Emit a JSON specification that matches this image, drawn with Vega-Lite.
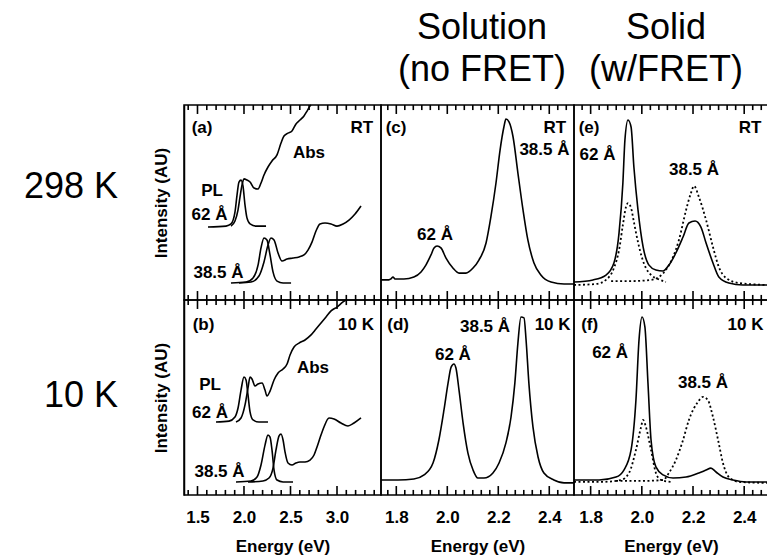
{
"$schema": "https://vega.github.io/schema/vega-lite/v6.json",
"padding": {"left": 23, "top": 0, "right": 0, "bottom": 0},
"background": "white",
"columns": 3,
"spacing": 0,
"bounds": "flush",
"align": "each",
"datasets": {
"spectra": [
{"panel":"a","series":"PL 62 Å","energy":1.613,"intensity":37.4},{"panel":"a","series":"PL 62 Å","energy":1.807,"intensity":37.9},{"panel":"a","series":"PL 62 Å","energy":1.86,"intensity":39.0},{"panel":"a","series":"PL 62 Å","energy":1.903,"intensity":45.1},{"panel":"a","series":"PL 62 Å","energy":1.925,"intensity":53.8},{"panel":"a","series":"PL 62 Å","energy":1.946,"intensity":60.5},{"panel":"a","series":"PL 62 Å","energy":1.968,"intensity":61.5},{"panel":"a","series":"PL 62 Å","energy":1.989,"intensity":58.5},{"panel":"a","series":"PL 62 Å","energy":2.011,"intensity":48.7},{"panel":"a","series":"PL 62 Å","energy":2.032,"intensity":42.1},{"panel":"a","series":"PL 62 Å","energy":2.065,"intensity":39.0},{"panel":"a","series":"PL 62 Å","energy":2.129,"intensity":37.9},{"panel":"a","series":"PL 62 Å","energy":2.237,"intensity":37.9},
{"panel":"a","series":"Abs 62 Å","energy":1.86,"intensity":37.9},{"panel":"a","series":"Abs 62 Å","energy":1.903,"intensity":40.5},{"panel":"a","series":"Abs 62 Å","energy":1.936,"intensity":46.2},{"panel":"a","series":"Abs 62 Å","energy":1.957,"intensity":52.8},{"panel":"a","series":"Abs 62 Å","energy":1.979,"intensity":59.0},{"panel":"a","series":"Abs 62 Å","energy":2.0,"intensity":62.1},{"panel":"a","series":"Abs 62 Å","energy":2.032,"intensity":61.5},{"panel":"a","series":"Abs 62 Å","energy":2.065,"intensity":60.5},{"panel":"a","series":"Abs 62 Å","energy":2.108,"intensity":57.4},{"panel":"a","series":"Abs 62 Å","energy":2.151,"intensity":56.9},{"panel":"a","series":"Abs 62 Å","energy":2.183,"intensity":60.0},{"panel":"a","series":"Abs 62 Å","energy":2.215,"intensity":64.1},{"panel":"a","series":"Abs 62 Å","energy":2.258,"intensity":68.2},{"panel":"a","series":"Abs 62 Å","energy":2.301,"intensity":71.3},{"panel":"a","series":"Abs 62 Å","energy":2.355,"intensity":74.4},{"panel":"a","series":"Abs 62 Å","energy":2.398,"intensity":80.5},{"panel":"a","series":"Abs 62 Å","energy":2.43,"intensity":84.1},{"panel":"a","series":"Abs 62 Å","energy":2.473,"intensity":85.6},{"panel":"a","series":"Abs 62 Å","energy":2.516,"intensity":86.7},{"panel":"a","series":"Abs 62 Å","energy":2.559,"intensity":90.3},{"panel":"a","series":"Abs 62 Å","energy":2.602,"intensity":92.3},{"panel":"a","series":"Abs 62 Å","energy":2.645,"intensity":94.4},{"panel":"a","series":"Abs 62 Å","energy":2.678,"intensity":96.9},{"panel":"a","series":"Abs 62 Å","energy":2.71,"intensity":99.5},{"panel":"a","series":"Abs 62 Å","energy":2.721,"intensity":100},
{"panel":"a","series":"PL 38.5 Å","energy":1.86,"intensity":8.7},{"panel":"a","series":"PL 38.5 Å","energy":2.022,"intensity":9.2},{"panel":"a","series":"PL 38.5 Å","energy":2.097,"intensity":11.3},{"panel":"a","series":"PL 38.5 Å","energy":2.151,"intensity":17.9},{"panel":"a","series":"PL 38.5 Å","energy":2.183,"intensity":26.7},{"panel":"a","series":"PL 38.5 Å","energy":2.215,"intensity":31.8},{"panel":"a","series":"PL 38.5 Å","energy":2.247,"intensity":30.8},{"panel":"a","series":"PL 38.5 Å","energy":2.28,"intensity":23.1},{"panel":"a","series":"PL 38.5 Å","energy":2.312,"intensity":14.4},{"panel":"a","series":"PL 38.5 Å","energy":2.355,"intensity":9.7},{"panel":"a","series":"PL 38.5 Å","energy":2.42,"intensity":8.7},{"panel":"a","series":"PL 38.5 Å","energy":2.506,"intensity":8.7},
{"panel":"a","series":"Abs 38.5 Å","energy":1.946,"intensity":8.7},{"panel":"a","series":"Abs 38.5 Å","energy":2.075,"intensity":9.2},{"panel":"a","series":"Abs 38.5 Å","energy":2.161,"intensity":12.3},{"panel":"a","series":"Abs 38.5 Å","energy":2.215,"intensity":19.5},{"panel":"a","series":"Abs 38.5 Å","energy":2.258,"intensity":28.2},{"panel":"a","series":"Abs 38.5 Å","energy":2.29,"intensity":31.8},{"panel":"a","series":"Abs 38.5 Å","energy":2.323,"intensity":30.8},{"panel":"a","series":"Abs 38.5 Å","energy":2.366,"intensity":24.1},{"panel":"a","series":"Abs 38.5 Å","energy":2.409,"intensity":20.0},{"panel":"a","series":"Abs 38.5 Å","energy":2.463,"intensity":21.0},{"panel":"a","series":"Abs 38.5 Å","energy":2.527,"intensity":21.5},{"panel":"a","series":"Abs 38.5 Å","energy":2.592,"intensity":22.1},{"panel":"a","series":"Abs 38.5 Å","energy":2.645,"intensity":23.1},{"panel":"a","series":"Abs 38.5 Å","energy":2.688,"intensity":25.6},{"panel":"a","series":"Abs 38.5 Å","energy":2.731,"intensity":29.7},{"panel":"a","series":"Abs 38.5 Å","energy":2.774,"intensity":35.4},{"panel":"a","series":"Abs 38.5 Å","energy":2.817,"intensity":39.0},{"panel":"a","series":"Abs 38.5 Å","energy":2.871,"intensity":39.5},{"panel":"a","series":"Abs 38.5 Å","energy":2.936,"intensity":39.0},{"panel":"a","series":"Abs 38.5 Å","energy":3.0,"intensity":37.9},{"panel":"a","series":"Abs 38.5 Å","energy":3.065,"intensity":39.0},{"panel":"a","series":"Abs 38.5 Å","energy":3.129,"intensity":41.0},{"panel":"a","series":"Abs 38.5 Å","energy":3.194,"intensity":44.1},{"panel":"a","series":"Abs 38.5 Å","energy":3.258,"intensity":48.2},
{"panel":"b","series":"PL 62 Å","energy":1.699,"intensity":37.4},{"panel":"b","series":"PL 62 Å","energy":1.839,"intensity":37.9},{"panel":"b","series":"PL 62 Å","energy":1.903,"intensity":40.0},{"panel":"b","series":"PL 62 Å","energy":1.936,"intensity":44.6},{"panel":"b","series":"PL 62 Å","energy":1.968,"intensity":53.8},{"panel":"b","series":"PL 62 Å","energy":2.0,"intensity":60.5},{"panel":"b","series":"PL 62 Å","energy":2.022,"intensity":59.0},{"panel":"b","series":"PL 62 Å","energy":2.043,"intensity":51.3},{"panel":"b","series":"PL 62 Å","energy":2.065,"intensity":42.6},{"panel":"b","series":"PL 62 Å","energy":2.097,"intensity":38.5},{"panel":"b","series":"PL 62 Å","energy":2.161,"intensity":37.4},{"panel":"b","series":"PL 62 Å","energy":2.258,"intensity":37.4},
{"panel":"b","series":"Abs 62 Å","energy":1.914,"intensity":37.4},{"panel":"b","series":"Abs 62 Å","energy":1.968,"intensity":39.5},{"panel":"b","series":"Abs 62 Å","energy":2.011,"intensity":46.2},{"panel":"b","series":"Abs 62 Å","energy":2.043,"intensity":54.9},{"panel":"b","series":"Abs 62 Å","energy":2.065,"intensity":60.5},{"panel":"b","series":"Abs 62 Å","energy":2.086,"intensity":59.5},{"panel":"b","series":"Abs 62 Å","energy":2.118,"intensity":55.9},{"panel":"b","series":"Abs 62 Å","energy":2.151,"intensity":56.9},{"panel":"b","series":"Abs 62 Å","energy":2.194,"intensity":57.4},{"panel":"b","series":"Abs 62 Å","energy":2.226,"intensity":53.8},{"panel":"b","series":"Abs 62 Å","energy":2.247,"intensity":50.8},{"panel":"b","series":"Abs 62 Å","energy":2.28,"intensity":53.3},{"panel":"b","series":"Abs 62 Å","energy":2.323,"intensity":59.0},{"panel":"b","series":"Abs 62 Å","energy":2.366,"intensity":62.6},{"panel":"b","series":"Abs 62 Å","energy":2.42,"intensity":64.6},{"panel":"b","series":"Abs 62 Å","energy":2.463,"intensity":67.2},{"panel":"b","series":"Abs 62 Å","energy":2.495,"intensity":71.8},{"panel":"b","series":"Abs 62 Å","energy":2.538,"intensity":75.9},{"panel":"b","series":"Abs 62 Å","energy":2.592,"intensity":77.9},{"panel":"b","series":"Abs 62 Å","energy":2.656,"intensity":79.5},{"panel":"b","series":"Abs 62 Å","energy":2.721,"intensity":82.1},{"panel":"b","series":"Abs 62 Å","energy":2.774,"intensity":85.1},{"panel":"b","series":"Abs 62 Å","energy":2.828,"intensity":88.2},{"panel":"b","series":"Abs 62 Å","energy":2.882,"intensity":91.3},{"panel":"b","series":"Abs 62 Å","energy":2.936,"intensity":94.4},{"panel":"b","series":"Abs 62 Å","energy":3.0,"intensity":96.4},{"panel":"b","series":"Abs 62 Å","energy":3.065,"intensity":99.0},{"panel":"b","series":"Abs 62 Å","energy":3.097,"intensity":100},
{"panel":"b","series":"PL 38.5 Å","energy":1.914,"intensity":6.7},{"panel":"b","series":"PL 38.5 Å","energy":2.075,"intensity":7.2},{"panel":"b","series":"PL 38.5 Å","energy":2.14,"intensity":9.2},{"panel":"b","series":"PL 38.5 Å","energy":2.183,"intensity":15.4},{"panel":"b","series":"PL 38.5 Å","energy":2.226,"intensity":25.6},{"panel":"b","series":"PL 38.5 Å","energy":2.258,"intensity":30.8},{"panel":"b","series":"PL 38.5 Å","energy":2.28,"intensity":29.7},{"panel":"b","series":"PL 38.5 Å","energy":2.301,"intensity":23.1},{"panel":"b","series":"PL 38.5 Å","energy":2.323,"intensity":12.8},{"panel":"b","series":"PL 38.5 Å","energy":2.355,"intensity":7.7},{"panel":"b","series":"PL 38.5 Å","energy":2.42,"intensity":6.7},{"panel":"b","series":"PL 38.5 Å","energy":2.527,"intensity":6.7},
{"panel":"b","series":"Abs 38.5 Å","energy":2.043,"intensity":6.7},{"panel":"b","series":"Abs 38.5 Å","energy":2.204,"intensity":7.2},{"panel":"b","series":"Abs 38.5 Å","energy":2.269,"intensity":8.7},{"panel":"b","series":"Abs 38.5 Å","energy":2.312,"intensity":13.8},{"panel":"b","series":"Abs 38.5 Å","energy":2.344,"intensity":23.1},{"panel":"b","series":"Abs 38.5 Å","energy":2.377,"intensity":30.3},{"panel":"b","series":"Abs 38.5 Å","energy":2.398,"intensity":31.3},{"panel":"b","series":"Abs 38.5 Å","energy":2.42,"intensity":28.2},{"panel":"b","series":"Abs 38.5 Å","energy":2.441,"intensity":22.1},{"panel":"b","series":"Abs 38.5 Å","energy":2.473,"intensity":16.4},{"panel":"b","series":"Abs 38.5 Å","energy":2.516,"intensity":15.4},{"panel":"b","series":"Abs 38.5 Å","energy":2.559,"intensity":16.4},{"panel":"b","series":"Abs 38.5 Å","energy":2.602,"intensity":16.9},{"panel":"b","series":"Abs 38.5 Å","energy":2.656,"intensity":16.9},{"panel":"b","series":"Abs 38.5 Å","energy":2.71,"intensity":17.9},{"panel":"b","series":"Abs 38.5 Å","energy":2.753,"intensity":20.5},{"panel":"b","series":"Abs 38.5 Å","energy":2.785,"intensity":24.6},{"panel":"b","series":"Abs 38.5 Å","energy":2.817,"intensity":29.2},{"panel":"b","series":"Abs 38.5 Å","energy":2.86,"intensity":34.9},{"panel":"b","series":"Abs 38.5 Å","energy":2.914,"intensity":39.5},{"panel":"b","series":"Abs 38.5 Å","energy":2.968,"intensity":39.0},{"panel":"b","series":"Abs 38.5 Å","energy":3.043,"intensity":36.9},{"panel":"b","series":"Abs 38.5 Å","energy":3.118,"intensity":35.4},{"panel":"b","series":"Abs 38.5 Å","energy":3.183,"intensity":36.9},{"panel":"b","series":"Abs 38.5 Å","energy":3.258,"intensity":39.5},
{"panel":"c","series":"PL","energy":1.74,"intensity":10.3},{"panel":"c","series":"PL","energy":1.771,"intensity":10.3},{"panel":"c","series":"PL","energy":1.779,"intensity":10.8},{"panel":"c","series":"PL","energy":1.787,"intensity":11.8},{"panel":"c","series":"PL","energy":1.795,"intensity":10.8},{"panel":"c","series":"PL","energy":1.83,"intensity":10.8},{"panel":"c","series":"PL","energy":1.869,"intensity":11.8},{"panel":"c","series":"PL","energy":1.897,"intensity":14.4},{"panel":"c","series":"PL","energy":1.916,"intensity":17.9},{"panel":"c","series":"PL","energy":1.936,"intensity":23.1},{"panel":"c","series":"PL","energy":1.948,"intensity":26.7},{"panel":"c","series":"PL","energy":1.96,"intensity":27.7},{"panel":"c","series":"PL","energy":1.975,"intensity":26.7},{"panel":"c","series":"PL","energy":1.995,"intensity":21.5},{"panel":"c","series":"PL","energy":2.022,"intensity":16.4},{"panel":"c","series":"PL","energy":2.046,"intensity":13.8},{"panel":"c","series":"PL","energy":2.073,"intensity":13.8},{"panel":"c","series":"PL","energy":2.101,"intensity":16.4},{"panel":"c","series":"PL","energy":2.124,"intensity":20.5},{"panel":"c","series":"PL","energy":2.152,"intensity":29.2},{"panel":"c","series":"PL","energy":2.171,"intensity":42.6},{"panel":"c","series":"PL","energy":2.191,"intensity":60.0},{"panel":"c","series":"PL","energy":2.207,"intensity":76.9},{"panel":"c","series":"PL","energy":2.222,"intensity":88.7},{"panel":"c","series":"PL","energy":2.23,"intensity":92.8},{"panel":"c","series":"PL","energy":2.242,"intensity":91.3},{"panel":"c","series":"PL","energy":2.258,"intensity":83.6},{"panel":"c","series":"PL","energy":2.277,"intensity":65.1},{"panel":"c","series":"PL","energy":2.297,"intensity":46.2},{"panel":"c","series":"PL","energy":2.316,"intensity":30.8},{"panel":"c","series":"PL","energy":2.34,"intensity":19.0},{"panel":"c","series":"PL","energy":2.367,"intensity":12.8},{"panel":"c","series":"PL","energy":2.407,"intensity":9.2},{"panel":"c","series":"PL","energy":2.458,"intensity":8.2},{"panel":"c","series":"PL","energy":2.497,"intensity":8.2},
{"panel":"d","series":"PL","energy":1.74,"intensity":7.7},{"panel":"d","series":"PL","energy":1.807,"intensity":7.7},{"panel":"d","series":"PL","energy":1.869,"intensity":8.2},{"panel":"d","series":"PL","energy":1.909,"intensity":10.3},{"panel":"d","series":"PL","energy":1.944,"intensity":16.4},{"panel":"d","series":"PL","energy":1.967,"intensity":28.2},{"panel":"d","series":"PL","energy":1.987,"intensity":43.6},{"panel":"d","series":"PL","energy":2.003,"intensity":57.4},{"panel":"d","series":"PL","energy":2.015,"intensity":65.6},{"panel":"d","series":"PL","energy":2.026,"intensity":67.2},{"panel":"d","series":"PL","energy":2.034,"intensity":65.1},{"panel":"d","series":"PL","energy":2.046,"intensity":53.8},{"panel":"d","series":"PL","energy":2.062,"intensity":36.9},{"panel":"d","series":"PL","energy":2.081,"intensity":21.5},{"panel":"d","series":"PL","energy":2.101,"intensity":12.8},{"panel":"d","series":"PL","energy":2.12,"intensity":8.7},{"panel":"d","series":"PL","energy":2.144,"intensity":8.7},{"panel":"d","series":"PL","energy":2.179,"intensity":11.3},{"panel":"d","series":"PL","energy":2.203,"intensity":16.4},{"panel":"d","series":"PL","energy":2.23,"intensity":26.7},{"panel":"d","series":"PL","energy":2.25,"intensity":40.0},{"panel":"d","series":"PL","energy":2.265,"intensity":57.4},{"panel":"d","series":"PL","energy":2.277,"intensity":77.9},{"panel":"d","series":"PL","energy":2.289,"intensity":91.3},{"panel":"d","series":"PL","energy":2.301,"intensity":90.8},{"panel":"d","series":"PL","energy":2.309,"intensity":79.5},{"panel":"d","series":"PL","energy":2.32,"intensity":57.4},{"panel":"d","series":"PL","energy":2.336,"intensity":34.9},{"panel":"d","series":"PL","energy":2.356,"intensity":19.5},{"panel":"d","series":"PL","energy":2.379,"intensity":11.3},{"panel":"d","series":"PL","energy":2.418,"intensity":7.7},{"panel":"d","series":"PL","energy":2.458,"intensity":6.2},{"panel":"d","series":"PL","energy":2.497,"intensity":6.2},
{"panel":"e","series":"film","energy":1.735,"intensity":9.2},{"panel":"e","series":"film","energy":1.809,"intensity":10.3},{"panel":"e","series":"film","energy":1.86,"intensity":12.8},{"panel":"e","series":"film","energy":1.891,"intensity":19.0},{"panel":"e","series":"film","energy":1.911,"intensity":34.4},{"panel":"e","series":"film","energy":1.926,"intensity":60.0},{"panel":"e","series":"film","energy":1.934,"intensity":82.1},{"panel":"e","series":"film","energy":1.946,"intensity":92.3},{"panel":"e","series":"film","energy":1.958,"intensity":88.7},{"panel":"e","series":"film","energy":1.969,"intensity":68.2},{"panel":"e","series":"film","energy":1.985,"intensity":46.2},{"panel":"e","series":"film","energy":2.005,"intensity":27.2},{"panel":"e","series":"film","energy":2.028,"intensity":17.9},{"panel":"e","series":"film","energy":2.055,"intensity":15.4},{"panel":"e","series":"film","energy":2.083,"intensity":14.9},{"panel":"e","series":"film","energy":2.106,"intensity":17.9},{"panel":"e","series":"film","energy":2.133,"intensity":24.1},{"panel":"e","series":"film","energy":2.161,"intensity":32.3},{"panel":"e","series":"film","energy":2.184,"intensity":39.5},{"panel":"e","series":"film","energy":2.208,"intensity":40.5},{"panel":"e","series":"film","energy":2.231,"intensity":37.4},{"panel":"e","series":"film","energy":2.251,"intensity":29.2},{"panel":"e","series":"film","energy":2.278,"intensity":19.0},{"panel":"e","series":"film","energy":2.301,"intensity":11.8},{"panel":"e","series":"film","energy":2.34,"intensity":8.7},{"panel":"e","series":"film","energy":2.395,"intensity":7.7},{"panel":"e","series":"film","energy":2.493,"intensity":7.7},
{"panel":"e","series":"solution 62 Å","energy":1.735,"intensity":7.7},{"panel":"e","series":"solution 62 Å","energy":1.821,"intensity":8.2},{"panel":"e","series":"solution 62 Å","energy":1.86,"intensity":10.3},{"panel":"e","series":"solution 62 Å","energy":1.891,"intensity":16.4},{"panel":"e","series":"solution 62 Å","energy":1.911,"intensity":25.6},{"panel":"e","series":"solution 62 Å","energy":1.926,"intensity":38.5},{"panel":"e","series":"solution 62 Å","energy":1.938,"intensity":47.7},{"panel":"e","series":"solution 62 Å","energy":1.946,"intensity":49.7},{"panel":"e","series":"solution 62 Å","energy":1.958,"intensity":47.2},{"panel":"e","series":"solution 62 Å","energy":1.969,"intensity":40.0},{"panel":"e","series":"solution 62 Å","energy":1.985,"intensity":29.7},{"panel":"e","series":"solution 62 Å","energy":2.001,"intensity":21.5},{"panel":"e","series":"solution 62 Å","energy":2.016,"intensity":16.4},{"panel":"e","series":"solution 62 Å","energy":2.036,"intensity":12.8},{"panel":"e","series":"solution 62 Å","energy":2.063,"intensity":10.8},{"panel":"e","series":"solution 62 Å","energy":2.094,"intensity":9.2},
{"panel":"e","series":"solution 38.5 Å","energy":1.88,"intensity":9.7},{"panel":"e","series":"solution 38.5 Å","energy":1.958,"intensity":9.7},{"panel":"e","series":"solution 38.5 Å","energy":2.036,"intensity":10.3},{"panel":"e","series":"solution 38.5 Å","energy":2.067,"intensity":11.8},{"panel":"e","series":"solution 38.5 Å","energy":2.094,"intensity":15.4},{"panel":"e","series":"solution 38.5 Å","energy":2.122,"intensity":22.1},{"panel":"e","series":"solution 38.5 Å","energy":2.145,"intensity":30.8},{"panel":"e","series":"solution 38.5 Å","energy":2.173,"intensity":46.2},{"panel":"e","series":"solution 38.5 Å","energy":2.192,"intensity":54.9},{"panel":"e","series":"solution 38.5 Å","energy":2.204,"intensity":58.5},{"panel":"e","series":"solution 38.5 Å","energy":2.223,"intensity":52.8},{"panel":"e","series":"solution 38.5 Å","energy":2.251,"intensity":41.0},{"panel":"e","series":"solution 38.5 Å","energy":2.278,"intensity":27.2},{"panel":"e","series":"solution 38.5 Å","energy":2.301,"intensity":16.9},{"panel":"e","series":"solution 38.5 Å","energy":2.329,"intensity":11.3},{"panel":"e","series":"solution 38.5 Å","energy":2.38,"intensity":8.7},{"panel":"e","series":"solution 38.5 Å","energy":2.493,"intensity":7.7},
{"panel":"f","series":"film","energy":1.735,"intensity":7.7},{"panel":"f","series":"film","energy":1.833,"intensity":7.7},{"panel":"f","series":"film","energy":1.899,"intensity":9.2},{"panel":"f","series":"film","energy":1.93,"intensity":12.8},{"panel":"f","series":"film","energy":1.958,"intensity":23.1},{"panel":"f","series":"film","energy":1.977,"intensity":48.7},{"panel":"f","series":"film","energy":1.989,"intensity":79.5},{"panel":"f","series":"film","energy":2.001,"intensity":91.3},{"panel":"f","series":"film","energy":2.012,"intensity":86.2},{"panel":"f","series":"film","energy":2.024,"intensity":57.4},{"panel":"f","series":"film","energy":2.036,"intensity":28.2},{"panel":"f","series":"film","energy":2.055,"intensity":14.4},{"panel":"f","series":"film","energy":2.083,"intensity":10.3},{"panel":"f","series":"film","energy":2.122,"intensity":8.7},{"panel":"f","series":"film","energy":2.173,"intensity":9.2},{"panel":"f","series":"film","energy":2.223,"intensity":11.3},{"panel":"f","series":"film","energy":2.251,"intensity":12.8},{"panel":"f","series":"film","energy":2.27,"intensity":13.8},{"panel":"f","series":"film","energy":2.29,"intensity":11.8},{"panel":"f","series":"film","energy":2.317,"intensity":9.2},{"panel":"f","series":"film","energy":2.356,"intensity":7.7},{"panel":"f","series":"film","energy":2.407,"intensity":6.7},{"panel":"f","series":"film","energy":2.493,"intensity":6.7},
{"panel":"f","series":"solution 62 Å","energy":1.735,"intensity":6.7},{"panel":"f","series":"solution 62 Å","energy":1.84,"intensity":6.7},{"panel":"f","series":"solution 62 Å","energy":1.919,"intensity":7.7},{"panel":"f","series":"solution 62 Å","energy":1.95,"intensity":11.3},{"panel":"f","series":"solution 62 Å","energy":1.977,"intensity":23.1},{"panel":"f","series":"solution 62 Å","energy":1.997,"intensity":34.9},{"panel":"f","series":"solution 62 Å","energy":2.005,"intensity":38.5},{"panel":"f","series":"solution 62 Å","energy":2.016,"intensity":34.9},{"panel":"f","series":"solution 62 Å","energy":2.036,"intensity":23.1},{"panel":"f","series":"solution 62 Å","energy":2.055,"intensity":11.3},{"panel":"f","series":"solution 62 Å","energy":2.075,"intensity":7.7},{"panel":"f","series":"solution 62 Å","energy":2.114,"intensity":6.7},
{"panel":"f","series":"solution 38.5 Å","energy":1.899,"intensity":7.2},{"panel":"f","series":"solution 38.5 Å","energy":1.997,"intensity":7.2},{"panel":"f","series":"solution 38.5 Å","energy":2.083,"intensity":7.7},{"panel":"f","series":"solution 38.5 Å","energy":2.106,"intensity":11.3},{"panel":"f","series":"solution 38.5 Å","energy":2.133,"intensity":17.9},{"panel":"f","series":"solution 38.5 Å","energy":2.161,"intensity":28.2},{"panel":"f","series":"solution 38.5 Å","energy":2.184,"intensity":38.5},{"panel":"f","series":"solution 38.5 Å","energy":2.219,"intensity":47.7},{"panel":"f","series":"solution 38.5 Å","energy":2.239,"intensity":50.3},{"panel":"f","series":"solution 38.5 Å","energy":2.258,"intensity":48.7},{"panel":"f","series":"solution 38.5 Å","energy":2.278,"intensity":40.0},{"panel":"f","series":"solution 38.5 Å","energy":2.298,"intensity":28.2},{"panel":"f","series":"solution 38.5 Å","energy":2.317,"intensity":16.4},{"panel":"f","series":"solution 38.5 Å","energy":2.34,"intensity":9.2},{"panel":"f","series":"solution 38.5 Å","energy":2.38,"intensity":6.7},{"panel":"f","series":"solution 38.5 Å","energy":2.493,"intensity":6.2}
],
"labels": [
{"panel":"a","text":"(a)","energy":1.549,"intensity":88.2},{"panel":"a","text":"RT","energy":3.266,"intensity":88.2},{"panel":"a","text":"Abs","energy":2.699,"intensity":75.4},{"panel":"a","text":"PL","energy":1.656,"intensity":55.9},{"panel":"a","text":"62 Å","energy":1.629,"intensity":43.6},{"panel":"a","text":"38.5 Å","energy":1.726,"intensity":13.8},
{"panel":"b","text":"(b)","energy":1.565,"intensity":87.2},{"panel":"b","text":"10 K","energy":3.204,"intensity":87.2},{"panel":"b","text":"Abs","energy":2.742,"intensity":65.1},{"panel":"b","text":"PL","energy":1.635,"intensity":56.4},{"panel":"b","text":"62 Å","energy":1.635,"intensity":42.1},{"panel":"b","text":"38.5 Å","energy":1.737,"intensity":11.8},
{"panel":"c","text":"(c)","energy":1.799,"intensity":88.2},{"panel":"c","text":"RT","energy":2.422,"intensity":88.2},{"panel":"c","text":"38.5 Å","energy":2.381,"intensity":76.9},{"panel":"c","text":"62 Å","energy":1.952,"intensity":33.3},
{"panel":"d","text":"(d)","energy":1.807,"intensity":87.2},{"panel":"d","text":"38.5 Å","energy":2.148,"intensity":86.2},{"panel":"d","text":"10 K","energy":2.413,"intensity":87.2},{"panel":"d","text":"62 Å","energy":2.022,"intensity":71.8},
{"panel":"e","text":"(e)","energy":1.794,"intensity":88.2},{"panel":"e","text":"RT","energy":2.423,"intensity":88.2},{"panel":"e","text":"62 Å","energy":1.827,"intensity":74.4},{"panel":"e","text":"38.5 Å","energy":2.204,"intensity":66.7},
{"panel":"f","text":"(f)","energy":1.796,"intensity":87.2},{"panel":"f","text":"10 K","energy":2.405,"intensity":87.2},{"panel":"f","text":"62 Å","energy":1.876,"intensity":72.8},{"panel":"f","text":"38.5 Å","energy":2.239,"intensity":57.4}
],
"temps": [
{"panel":"a","text":"298 K","energy":0.645,"intensity":52.3},
{"panel":"b","text":"10 K","energy":0.645,"intensity":45.1}
],
"ticks": [
{"col":"1","energy":1.4,"kind":"minor"},{"col":"1","energy":1.5,"kind":"major"},{"col":"1","energy":1.6,"kind":"minor"},{"col":"1","energy":1.7,"kind":"minor"},{"col":"1","energy":1.8,"kind":"minor"},{"col":"1","energy":1.9,"kind":"minor"},{"col":"1","energy":2.0,"kind":"major"},{"col":"1","energy":2.1,"kind":"minor"},{"col":"1","energy":2.2,"kind":"minor"},{"col":"1","energy":2.3,"kind":"minor"},{"col":"1","energy":2.4,"kind":"minor"},{"col":"1","energy":2.5,"kind":"major"},{"col":"1","energy":2.6,"kind":"minor"},{"col":"1","energy":2.7,"kind":"minor"},{"col":"1","energy":2.8,"kind":"minor"},{"col":"1","energy":2.9,"kind":"minor"},{"col":"1","energy":3.0,"kind":"major"},{"col":"1","energy":3.1,"kind":"minor"},{"col":"1","energy":3.2,"kind":"minor"},{"col":"1","energy":3.3,"kind":"minor"},{"col":"1","energy":3.4,"kind":"minor"},
{"col":"23","energy":1.766667,"kind":"minor"},{"col":"23","energy":1.8,"kind":"major"},{"col":"23","energy":1.833333,"kind":"minor"},{"col":"23","energy":1.866667,"kind":"minor"},{"col":"23","energy":1.9,"kind":"minor"},{"col":"23","energy":1.933333,"kind":"minor"},{"col":"23","energy":1.966667,"kind":"minor"},{"col":"23","energy":2.0,"kind":"major"},{"col":"23","energy":2.033333,"kind":"minor"},{"col":"23","energy":2.066667,"kind":"minor"},{"col":"23","energy":2.1,"kind":"minor"},{"col":"23","energy":2.133333,"kind":"minor"},{"col":"23","energy":2.166667,"kind":"minor"},{"col":"23","energy":2.2,"kind":"major"},{"col":"23","energy":2.233333,"kind":"minor"},{"col":"23","energy":2.266667,"kind":"minor"},{"col":"23","energy":2.3,"kind":"minor"},{"col":"23","energy":2.333333,"kind":"minor"},{"col":"23","energy":2.366667,"kind":"minor"},{"col":"23","energy":2.4,"kind":"major"},{"col":"23","energy":2.433333,"kind":"minor"},{"col":"23","energy":2.466667,"kind":"minor"}
]
},
"concat": [
{"width":197,"height":105,"view":{"stroke":null},"data":{"values":[{"head":""}]},"mark":{"type":"text"},"encoding":{"text":{"field":"head"}}},
{"width":193,"height":105,"view":{"stroke":null},"data":{"values":[{"head":"Solution\n(no FRET)"}]},"mark":{"type":"text","fontSize":36,"fontWeight":"normal","lineBreak":"\n","lineHeight":42,"baseline":"top","dx":4.5,"dy":-42},"encoding":{"text":{"field":"head"}}},
{"width":194,"height":105,"view":{"stroke":null},"data":{"values":[{"head":"Solid\n(w/FRET)"}]},"mark":{"type":"text","fontSize":36,"fontWeight":"normal","lineBreak":"\n","lineHeight":42,"baseline":"top","dx":-5,"dy":-42},"encoding":{"text":{"field":"head"}}},

{"width":197,"height":195,"layer":[
 {"data":{"name":"spectra"},"transform":[{"filter":"datum.panel === 'a'"}],"mark":{"type":"line"},
  "encoding":{"x":{"field":"energy","type":"quantitative","scale":{"domain":[1.355,3.473],"nice":false,"zero":false},"axis":null},
  "y":{"field":"intensity","type":"quantitative","scale":{"domain":[0,100],"nice":false,"zero":false},"axis":{"title":"Intensity (AU)","labels":false,"ticks":false,"domain":true,"domainColor":"black","domainWidth":1.5,"titlePadding":14}},
  "detail":{"field":"series"}}},
 {"data":{"name":"labels"},"transform":[{"filter":"datum.panel === 'a'"}],"mark":{"type":"text"},
  "encoding":{"x":{"field":"energy","type":"quantitative","scale":{"domain":[1.355,3.473],"nice":false,"zero":false},"axis":null},
  "y":{"field":"intensity","type":"quantitative","scale":{"domain":[0,100],"nice":false,"zero":false},"axis":{"title":"Intensity (AU)","labels":false,"ticks":false,"domain":true,"domainColor":"black","domainWidth":1.5,"titlePadding":14}},"text":{"field":"text"}}},
 {"data":{"name":"temps"},"transform":[{"filter":"datum.panel === 'a'"}],"mark":{"type":"text","align":"right","baseline":"alphabetic","fontSize":36,"fontWeight":"normal"},
  "encoding":{"x":{"field":"energy","type":"quantitative","scale":{"domain":[1.355,3.473],"nice":false,"zero":false},"axis":null},
  "y":{"field":"intensity","type":"quantitative","scale":{"domain":[0,100],"nice":false,"zero":false},"axis":{"title":"Intensity (AU)","labels":false,"ticks":false,"domain":true,"domainColor":"black","domainWidth":1.5,"titlePadding":14}},"text":{"field":"text"}}},
 {"data":{"name":"ticks"},"transform":[{"filter":"datum.col === '1' && datum.kind === 'major'"}],"mark":{"type":"rule","color":"black","strokeWidth":1.6},
  "encoding":{"x":{"field":"energy","type":"quantitative","scale":{"domain":[1.355,3.473],"nice":false,"zero":false},"axis":null},
  "y":{"datum":0,"type":"quantitative","scale":{"domain":[0,100],"nice":false,"zero":false},"axis":{"title":"Intensity (AU)","labels":false,"ticks":false,"domain":true,"domainColor":"black","domainWidth":1.5,"titlePadding":14}},"y2":{"datum":4.6}}},
 {"data":{"name":"ticks"},"transform":[{"filter":"datum.col === '1' && datum.kind === 'minor'"}],"mark":{"type":"rule","color":"black","strokeWidth":1.6},
  "encoding":{"x":{"field":"energy","type":"quantitative","scale":{"domain":[1.355,3.473],"nice":false,"zero":false},"axis":null},
  "y":{"datum":0,"type":"quantitative","scale":{"domain":[0,100],"nice":false,"zero":false},"axis":{"title":"Intensity (AU)","labels":false,"ticks":false,"domain":true,"domainColor":"black","domainWidth":1.5,"titlePadding":14}},"y2":{"datum":2.6}}},
 {"data":{"name":"ticks"},"transform":[{"filter":"datum.col === '1' && datum.kind === 'major'"}],"mark":{"type":"rule","color":"black","strokeWidth":1.6},
  "encoding":{"x":{"field":"energy","type":"quantitative","scale":{"domain":[1.355,3.473],"nice":false,"zero":false},"axis":null},
  "y":{"datum":100,"type":"quantitative","scale":{"domain":[0,100],"nice":false,"zero":false},"axis":{"title":"Intensity (AU)","labels":false,"ticks":false,"domain":true,"domainColor":"black","domainWidth":1.5,"titlePadding":14}},"y2":{"datum":95.4}}},
 {"data":{"name":"ticks"},"transform":[{"filter":"datum.col === '1' && datum.kind === 'minor'"}],"mark":{"type":"rule","color":"black","strokeWidth":1.6},
  "encoding":{"x":{"field":"energy","type":"quantitative","scale":{"domain":[1.355,3.473],"nice":false,"zero":false},"axis":null},
  "y":{"datum":100,"type":"quantitative","scale":{"domain":[0,100],"nice":false,"zero":false},"axis":{"title":"Intensity (AU)","labels":false,"ticks":false,"domain":true,"domainColor":"black","domainWidth":1.5,"titlePadding":14}},"y2":{"datum":97.4}}}
]},

{"width":193,"height":195,"layer":[
 {"data":{"name":"spectra"},"transform":[{"filter":"datum.panel === 'c'"}],"mark":{"type":"line"},
  "encoding":{"x":{"field":"energy","type":"quantitative","scale":{"domain":[1.74,2.497],"nice":false,"zero":false},"axis":null},
  "y":{"field":"intensity","type":"quantitative","scale":{"domain":[0,100],"nice":false,"zero":false},"axis":null},
  "detail":{"field":"series"}}},
 {"data":{"name":"labels"},"transform":[{"filter":"datum.panel === 'c'"}],"mark":{"type":"text"},
  "encoding":{"x":{"field":"energy","type":"quantitative","scale":{"domain":[1.74,2.497],"nice":false,"zero":false},"axis":null},
  "y":{"field":"intensity","type":"quantitative","scale":{"domain":[0,100],"nice":false,"zero":false},"axis":null},"text":{"field":"text"}}},
 {"data":{"name":"ticks"},"transform":[{"filter":"datum.col === '23' && datum.kind === 'major'"}],"mark":{"type":"rule","color":"black","strokeWidth":1.6},
  "encoding":{"x":{"field":"energy","type":"quantitative","scale":{"domain":[1.74,2.497],"nice":false,"zero":false},"axis":null},
  "y":{"datum":0,"type":"quantitative","scale":{"domain":[0,100],"nice":false,"zero":false},"axis":null},"y2":{"datum":4.6}}},
 {"data":{"name":"ticks"},"transform":[{"filter":"datum.col === '23' && datum.kind === 'minor'"}],"mark":{"type":"rule","color":"black","strokeWidth":1.6},
  "encoding":{"x":{"field":"energy","type":"quantitative","scale":{"domain":[1.74,2.497],"nice":false,"zero":false},"axis":null},
  "y":{"datum":0,"type":"quantitative","scale":{"domain":[0,100],"nice":false,"zero":false},"axis":null},"y2":{"datum":2.6}}},
 {"data":{"name":"ticks"},"transform":[{"filter":"datum.col === '23' && datum.kind === 'major'"}],"mark":{"type":"rule","color":"black","strokeWidth":1.6},
  "encoding":{"x":{"field":"energy","type":"quantitative","scale":{"domain":[1.74,2.497],"nice":false,"zero":false},"axis":null},
  "y":{"datum":100,"type":"quantitative","scale":{"domain":[0,100],"nice":false,"zero":false},"axis":null},"y2":{"datum":95.4}}},
 {"data":{"name":"ticks"},"transform":[{"filter":"datum.col === '23' && datum.kind === 'minor'"}],"mark":{"type":"rule","color":"black","strokeWidth":1.6},
  "encoding":{"x":{"field":"energy","type":"quantitative","scale":{"domain":[1.74,2.497],"nice":false,"zero":false},"axis":null},
  "y":{"datum":100,"type":"quantitative","scale":{"domain":[0,100],"nice":false,"zero":false},"axis":null},"y2":{"datum":97.4}}}
]},

{"width":194,"height":195,"layer":[
 {"data":{"name":"spectra"},"transform":[{"filter":"datum.panel === 'e' && datum.series === 'film'"}],"mark":{"type":"line"},
  "encoding":{"x":{"field":"energy","type":"quantitative","scale":{"domain":[1.735,2.493],"nice":false,"zero":false},"axis":null},
  "y":{"field":"intensity","type":"quantitative","scale":{"domain":[0,100],"nice":false,"zero":false},"axis":null},
  "detail":{"field":"series"}}},
 {"data":{"name":"spectra"},"transform":[{"filter":"datum.panel === 'e' && datum.series !== 'film'"}],"mark":{"type":"line","strokeDash":[2,2.5],"strokeWidth":1.8},
  "encoding":{"x":{"field":"energy","type":"quantitative","scale":{"domain":[1.735,2.493],"nice":false,"zero":false},"axis":null},
  "y":{"field":"intensity","type":"quantitative","scale":{"domain":[0,100],"nice":false,"zero":false},"axis":null},
  "detail":{"field":"series"}}},
 {"data":{"name":"labels"},"transform":[{"filter":"datum.panel === 'e'"}],"mark":{"type":"text"},
  "encoding":{"x":{"field":"energy","type":"quantitative","scale":{"domain":[1.735,2.493],"nice":false,"zero":false},"axis":null},
  "y":{"field":"intensity","type":"quantitative","scale":{"domain":[0,100],"nice":false,"zero":false},"axis":null},"text":{"field":"text"}}},
 {"data":{"name":"ticks"},"transform":[{"filter":"datum.col === '23' && datum.kind === 'major'"}],"mark":{"type":"rule","color":"black","strokeWidth":1.6},
  "encoding":{"x":{"field":"energy","type":"quantitative","scale":{"domain":[1.735,2.493],"nice":false,"zero":false},"axis":null},
  "y":{"datum":0,"type":"quantitative","scale":{"domain":[0,100],"nice":false,"zero":false},"axis":null},"y2":{"datum":4.6}}},
 {"data":{"name":"ticks"},"transform":[{"filter":"datum.col === '23' && datum.kind === 'minor'"}],"mark":{"type":"rule","color":"black","strokeWidth":1.6},
  "encoding":{"x":{"field":"energy","type":"quantitative","scale":{"domain":[1.735,2.493],"nice":false,"zero":false},"axis":null},
  "y":{"datum":0,"type":"quantitative","scale":{"domain":[0,100],"nice":false,"zero":false},"axis":null},"y2":{"datum":2.6}}},
 {"data":{"name":"ticks"},"transform":[{"filter":"datum.col === '23' && datum.kind === 'major'"}],"mark":{"type":"rule","color":"black","strokeWidth":1.6},
  "encoding":{"x":{"field":"energy","type":"quantitative","scale":{"domain":[1.735,2.493],"nice":false,"zero":false},"axis":null},
  "y":{"datum":100,"type":"quantitative","scale":{"domain":[0,100],"nice":false,"zero":false},"axis":null},"y2":{"datum":95.4}}},
 {"data":{"name":"ticks"},"transform":[{"filter":"datum.col === '23' && datum.kind === 'minor'"}],"mark":{"type":"rule","color":"black","strokeWidth":1.6},
  "encoding":{"x":{"field":"energy","type":"quantitative","scale":{"domain":[1.735,2.493],"nice":false,"zero":false},"axis":null},
  "y":{"datum":100,"type":"quantitative","scale":{"domain":[0,100],"nice":false,"zero":false},"axis":null},"y2":{"datum":97.4}}}
]},

{"width":197,"height":195,"resolve":{"axis":{"x":"independent"}},"layer":[
 {"data":{"name":"spectra"},"transform":[{"filter":"datum.panel === 'b'"}],"mark":{"type":"line"},
  "encoding":{"x":{"field":"energy","type":"quantitative","scale":{"domain":[1.355,3.473],"nice":false,"zero":false},"axis":{"orient":"bottom","values":[1.5,2.0,2.5,3.0],"ticks":false,"format":".1f","labelPadding":14,"labelOverlap":false,"labelFlush":false,"title":"Energy (eV)","titlePadding":13}},
  "y":{"field":"intensity","type":"quantitative","scale":{"domain":[0,100],"nice":false,"zero":false},"axis":{"title":"Intensity (AU)","labels":false,"ticks":false,"domain":true,"domainColor":"black","domainWidth":1.5,"titlePadding":14}},
  "detail":{"field":"series"}}},
 {"data":{"name":"labels"},"transform":[{"filter":"datum.panel === 'b'"}],"mark":{"type":"text"},
  "encoding":{"x":{"field":"energy","type":"quantitative","scale":{"domain":[1.355,3.473],"nice":false,"zero":false},"axis":null},
  "y":{"field":"intensity","type":"quantitative","scale":{"domain":[0,100],"nice":false,"zero":false},"axis":{"title":"Intensity (AU)","labels":false,"ticks":false,"domain":true,"domainColor":"black","domainWidth":1.5,"titlePadding":14}},"text":{"field":"text"}}},
 {"data":{"name":"temps"},"transform":[{"filter":"datum.panel === 'b'"}],"mark":{"type":"text","align":"right","baseline":"alphabetic","fontSize":36,"fontWeight":"normal"},
  "encoding":{"x":{"field":"energy","type":"quantitative","scale":{"domain":[1.355,3.473],"nice":false,"zero":false},"axis":null},
  "y":{"field":"intensity","type":"quantitative","scale":{"domain":[0,100],"nice":false,"zero":false},"axis":{"title":"Intensity (AU)","labels":false,"ticks":false,"domain":true,"domainColor":"black","domainWidth":1.5,"titlePadding":14}},"text":{"field":"text"}}},
 {"data":{"name":"ticks"},"transform":[{"filter":"datum.col === '1' && datum.kind === 'major'"}],"mark":{"type":"rule","color":"black","strokeWidth":1.6},
  "encoding":{"x":{"field":"energy","type":"quantitative","scale":{"domain":[1.355,3.473],"nice":false,"zero":false},"axis":null},
  "y":{"datum":0,"type":"quantitative","scale":{"domain":[0,100],"nice":false,"zero":false},"axis":{"title":"Intensity (AU)","labels":false,"ticks":false,"domain":true,"domainColor":"black","domainWidth":1.5,"titlePadding":14}},"y2":{"datum":4.6}}},
 {"data":{"name":"ticks"},"transform":[{"filter":"datum.col === '1' && datum.kind === 'minor'"}],"mark":{"type":"rule","color":"black","strokeWidth":1.6},
  "encoding":{"x":{"field":"energy","type":"quantitative","scale":{"domain":[1.355,3.473],"nice":false,"zero":false},"axis":null},
  "y":{"datum":0,"type":"quantitative","scale":{"domain":[0,100],"nice":false,"zero":false},"axis":{"title":"Intensity (AU)","labels":false,"ticks":false,"domain":true,"domainColor":"black","domainWidth":1.5,"titlePadding":14}},"y2":{"datum":2.6}}},
 {"data":{"name":"ticks"},"transform":[{"filter":"datum.col === '1' && datum.kind === 'major'"}],"mark":{"type":"rule","color":"black","strokeWidth":1.6},
  "encoding":{"x":{"field":"energy","type":"quantitative","scale":{"domain":[1.355,3.473],"nice":false,"zero":false},"axis":null},
  "y":{"datum":100,"type":"quantitative","scale":{"domain":[0,100],"nice":false,"zero":false},"axis":{"title":"Intensity (AU)","labels":false,"ticks":false,"domain":true,"domainColor":"black","domainWidth":1.5,"titlePadding":14}},"y2":{"datum":95.4}}},
 {"data":{"name":"ticks"},"transform":[{"filter":"datum.col === '1' && datum.kind === 'minor'"}],"mark":{"type":"rule","color":"black","strokeWidth":1.6},
  "encoding":{"x":{"field":"energy","type":"quantitative","scale":{"domain":[1.355,3.473],"nice":false,"zero":false},"axis":null},
  "y":{"datum":100,"type":"quantitative","scale":{"domain":[0,100],"nice":false,"zero":false},"axis":{"title":"Intensity (AU)","labels":false,"ticks":false,"domain":true,"domainColor":"black","domainWidth":1.5,"titlePadding":14}},"y2":{"datum":97.4}}}
]},

{"width":193,"height":195,"resolve":{"axis":{"x":"independent"}},"layer":[
 {"data":{"name":"spectra"},"transform":[{"filter":"datum.panel === 'd'"}],"mark":{"type":"line"},
  "encoding":{"x":{"field":"energy","type":"quantitative","scale":{"domain":[1.74,2.497],"nice":false,"zero":false},"axis":{"orient":"bottom","values":[1.8,2.0,2.2,2.4],"ticks":false,"format":".1f","labelPadding":14,"labelOverlap":false,"labelFlush":false,"title":"Energy (eV)","titlePadding":13}},
  "y":{"field":"intensity","type":"quantitative","scale":{"domain":[0,100],"nice":false,"zero":false},"axis":null},
  "detail":{"field":"series"}}},
 {"data":{"name":"labels"},"transform":[{"filter":"datum.panel === 'd'"}],"mark":{"type":"text"},
  "encoding":{"x":{"field":"energy","type":"quantitative","scale":{"domain":[1.74,2.497],"nice":false,"zero":false},"axis":null},
  "y":{"field":"intensity","type":"quantitative","scale":{"domain":[0,100],"nice":false,"zero":false},"axis":null},"text":{"field":"text"}}},
 {"data":{"name":"ticks"},"transform":[{"filter":"datum.col === '23' && datum.kind === 'major'"}],"mark":{"type":"rule","color":"black","strokeWidth":1.6},
  "encoding":{"x":{"field":"energy","type":"quantitative","scale":{"domain":[1.74,2.497],"nice":false,"zero":false},"axis":null},
  "y":{"datum":0,"type":"quantitative","scale":{"domain":[0,100],"nice":false,"zero":false},"axis":null},"y2":{"datum":4.6}}},
 {"data":{"name":"ticks"},"transform":[{"filter":"datum.col === '23' && datum.kind === 'minor'"}],"mark":{"type":"rule","color":"black","strokeWidth":1.6},
  "encoding":{"x":{"field":"energy","type":"quantitative","scale":{"domain":[1.74,2.497],"nice":false,"zero":false},"axis":null},
  "y":{"datum":0,"type":"quantitative","scale":{"domain":[0,100],"nice":false,"zero":false},"axis":null},"y2":{"datum":2.6}}},
 {"data":{"name":"ticks"},"transform":[{"filter":"datum.col === '23' && datum.kind === 'major'"}],"mark":{"type":"rule","color":"black","strokeWidth":1.6},
  "encoding":{"x":{"field":"energy","type":"quantitative","scale":{"domain":[1.74,2.497],"nice":false,"zero":false},"axis":null},
  "y":{"datum":100,"type":"quantitative","scale":{"domain":[0,100],"nice":false,"zero":false},"axis":null},"y2":{"datum":95.4}}},
 {"data":{"name":"ticks"},"transform":[{"filter":"datum.col === '23' && datum.kind === 'minor'"}],"mark":{"type":"rule","color":"black","strokeWidth":1.6},
  "encoding":{"x":{"field":"energy","type":"quantitative","scale":{"domain":[1.74,2.497],"nice":false,"zero":false},"axis":null},
  "y":{"datum":100,"type":"quantitative","scale":{"domain":[0,100],"nice":false,"zero":false},"axis":null},"y2":{"datum":97.4}}}
]},

{"width":194,"height":195,"resolve":{"axis":{"x":"independent"}},"layer":[
 {"data":{"name":"spectra"},"transform":[{"filter":"datum.panel === 'f' && datum.series === 'film'"}],"mark":{"type":"line"},
  "encoding":{"x":{"field":"energy","type":"quantitative","scale":{"domain":[1.735,2.493],"nice":false,"zero":false},"axis":{"orient":"bottom","values":[1.8,2.0,2.2,2.4],"ticks":false,"format":".1f","labelPadding":14,"labelOverlap":false,"labelFlush":false,"title":"Energy (eV)","titlePadding":13}},
  "y":{"field":"intensity","type":"quantitative","scale":{"domain":[0,100],"nice":false,"zero":false},"axis":null},
  "detail":{"field":"series"}}},
 {"data":{"name":"spectra"},"transform":[{"filter":"datum.panel === 'f' && datum.series !== 'film'"}],"mark":{"type":"line","strokeDash":[2,2.5],"strokeWidth":1.8},
  "encoding":{"x":{"field":"energy","type":"quantitative","scale":{"domain":[1.735,2.493],"nice":false,"zero":false},"axis":null},
  "y":{"field":"intensity","type":"quantitative","scale":{"domain":[0,100],"nice":false,"zero":false},"axis":null},
  "detail":{"field":"series"}}},
 {"data":{"name":"labels"},"transform":[{"filter":"datum.panel === 'f'"}],"mark":{"type":"text"},
  "encoding":{"x":{"field":"energy","type":"quantitative","scale":{"domain":[1.735,2.493],"nice":false,"zero":false},"axis":null},
  "y":{"field":"intensity","type":"quantitative","scale":{"domain":[0,100],"nice":false,"zero":false},"axis":null},"text":{"field":"text"}}},
 {"data":{"name":"ticks"},"transform":[{"filter":"datum.col === '23' && datum.kind === 'major'"}],"mark":{"type":"rule","color":"black","strokeWidth":1.6},
  "encoding":{"x":{"field":"energy","type":"quantitative","scale":{"domain":[1.735,2.493],"nice":false,"zero":false},"axis":null},
  "y":{"datum":0,"type":"quantitative","scale":{"domain":[0,100],"nice":false,"zero":false},"axis":null},"y2":{"datum":4.6}}},
 {"data":{"name":"ticks"},"transform":[{"filter":"datum.col === '23' && datum.kind === 'minor'"}],"mark":{"type":"rule","color":"black","strokeWidth":1.6},
  "encoding":{"x":{"field":"energy","type":"quantitative","scale":{"domain":[1.735,2.493],"nice":false,"zero":false},"axis":null},
  "y":{"datum":0,"type":"quantitative","scale":{"domain":[0,100],"nice":false,"zero":false},"axis":null},"y2":{"datum":2.6}}},
 {"data":{"name":"ticks"},"transform":[{"filter":"datum.col === '23' && datum.kind === 'major'"}],"mark":{"type":"rule","color":"black","strokeWidth":1.6},
  "encoding":{"x":{"field":"energy","type":"quantitative","scale":{"domain":[1.735,2.493],"nice":false,"zero":false},"axis":null},
  "y":{"datum":100,"type":"quantitative","scale":{"domain":[0,100],"nice":false,"zero":false},"axis":null},"y2":{"datum":95.4}}},
 {"data":{"name":"ticks"},"transform":[{"filter":"datum.col === '23' && datum.kind === 'minor'"}],"mark":{"type":"rule","color":"black","strokeWidth":1.6},
  "encoding":{"x":{"field":"energy","type":"quantitative","scale":{"domain":[1.735,2.493],"nice":false,"zero":false},"axis":null},
  "y":{"datum":100,"type":"quantitative","scale":{"domain":[0,100],"nice":false,"zero":false},"axis":null},"y2":{"datum":97.4}}}
]}
],
"config": {
 "view": {"stroke": "black", "strokeWidth": 1.5},
 "axis": {"domain": false, "grid": false, "tickColor": "black", "tickWidth": 1.3, "labelFont": "Liberation Sans", "labelFontSize": 17, "labelFontWeight": "bold", "labelColor": "black", "titleFont": "Liberation Sans", "titleFontSize": 17, "titleFontWeight": "bold", "titleColor": "black"},
 "text": {"font": "Liberation Sans", "fontSize": 17, "fontWeight": "bold", "color": "black"},
 "line": {"color": "black", "strokeWidth": 1.6, "interpolate": "monotone"}
}
}
